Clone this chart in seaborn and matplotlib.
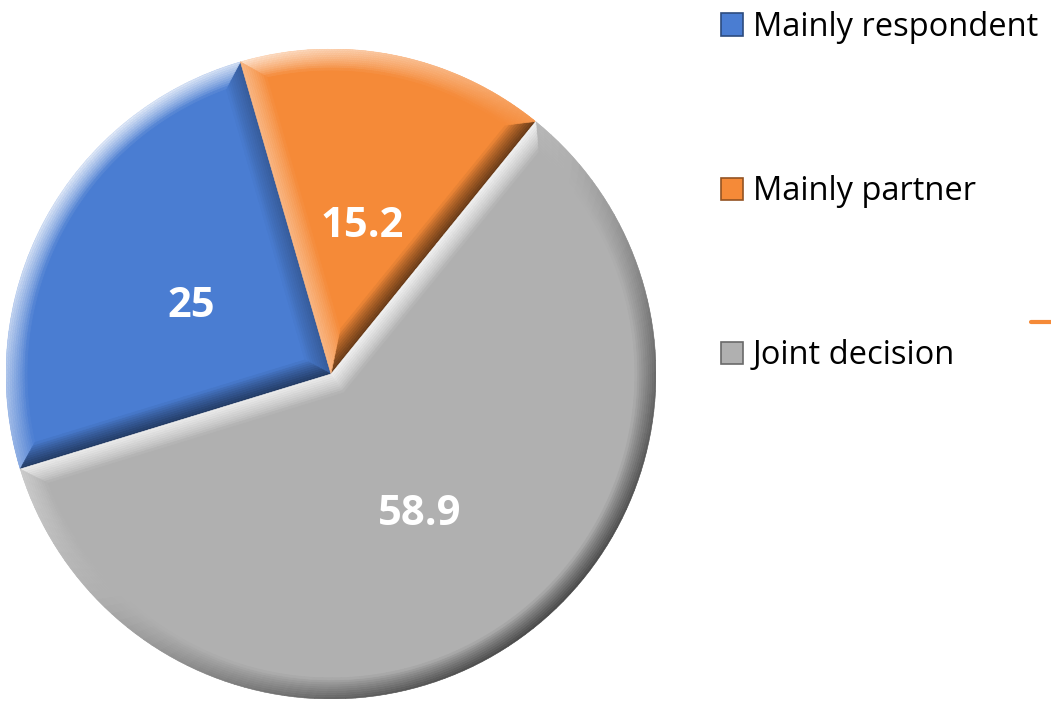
import numpy as np
import matplotlib
matplotlib.use("Agg")
import matplotlib.pyplot as plt
import matplotlib.colors as mcolors
from matplotlib.collections import PolyCollection
from matplotlib.lines import Line2D
from matplotlib.patches import Patch
import seaborn as sns

# Datos
categorias = ["Mainly respondent", "Mainly partner", "Joint decision"]
valores = [25, 15.2, 58.9]
etiquetas = ["25", "15.2", "58.9"]
colores = ["#4A7DD2", "#F58A38", "#B0B0B0"]

sns.set_theme(style="white")
plt.rcParams["font.family"] = ["Open Sans", "DejaVu Sans"]

fig = plt.figure(figsize=(10.51, 7.07), dpi=100)
ax = fig.add_axes([6 / 1051, 8 / 707, 650 / 1051, 650 / 707])

wedges, textos = ax.pie(
    valores,
    labels=etiquetas,
    colors=colores,
    startangle=197,
    counterclock=False,
    labeldistance=0.49,
    wedgeprops=dict(linewidth=0),
)

for t in textos:
    t.set_ha("center")
    t.set_va("center_baseline")
    t.set_color("white")
    t.set_fontsize(30)
    t.set_fontweight("bold")
    t.set_zorder(10)
    x, y = t.get_position()
    t.set_position((x, y - 0.01))


# Efecto bisel (luz desde arriba a la izquierda)
def contorno(w, d, n_arco=120, n_rad=30):
    t1, t2 = np.radians(w.theta1), np.radians(w.theta2)
    R = w.r
    cx, cy = w.center
    half = (t2 - t1) / 2
    bis = t1 + half
    dist = d / np.sin(half)
    apex = np.array([cx + dist * np.cos(bis), cy + dist * np.sin(bis)])
    delta = np.arcsin(d / (R - d))
    ang = np.linspace(t1 + delta, t2 - delta, n_arco)
    arco = np.column_stack([cx + (R - d) * np.cos(ang), cy + (R - d) * np.sin(ang)])
    e1 = np.linspace(apex, arco[0], n_rad)
    e2 = np.linspace(arco[-1], apex, n_rad)
    return np.vstack([e1, arco[1:], e2[1:]])


luz = np.array([-0.7, 0.75])
luz = luz / np.linalg.norm(luz)
ancho = 0.065
niveles = 10

for w, col in zip(wedges, colores):
    base = np.array(mcolors.to_rgb(col))
    capas = [contorno(w, ancho * k / niveles) for k in range(niveles + 1)]
    p0 = capas[0]
    seg = np.diff(p0, axis=0)
    normales = np.column_stack([seg[:, 1], -seg[:, 0]])
    normales /= np.linalg.norm(normales, axis=1, keepdims=True) + 1e-12
    s = normales @ luz
    polys, cols = [], []
    for k in range(niveles):
        a, b = capas[k], capas[k + 1]
        tm = (k + 0.5) / niveles
        perfil = (1 - tm) ** 0.8
        for j in range(len(seg)):
            polys.append([a[j], a[j + 1], b[j + 1], b[j]])
            amt = s[j] * perfil
            if amt > 0:
                c = base + (1 - base) * amt * 0.85
            else:
                c = base * (1 + amt * 0.6)
            cols.append(np.clip(c, 0, 1))
    pc = PolyCollection(polys, facecolors=cols, edgecolors=cols, linewidths=0.4, zorder=3)
    ax.add_collection(pc)

ax.set_xlim(-1, 1)
ax.set_ylim(-1, 1)
ax.set_aspect("equal")
ax.axis("off")

manijas = [Patch(facecolor=c, edgecolor=np.array(mcolors.to_rgb(c)) * 0.6, linewidth=1.2)
           for c in colores]
leg = ax.legend(
    manijas,
    categorias,
    loc="upper left",
    bbox_to_anchor=(721 / 1051, 1 - 11 / 707),
    bbox_transform=fig.transFigure,
    frameon=False,
    fontsize=23.5,
    labelspacing=4.02,
    handlelength=0.68,
    handleheight=0.68,
    handletextpad=0.3,
    borderpad=0,
    borderaxespad=0,
)
for t in leg.get_texts():
    t.set_color("black")

fig.add_artist(Line2D([1031 / 1051, 1.0], [1 - 322 / 707] * 2, transform=fig.transFigure,
                      color="#F58A38", lw=3, solid_capstyle="round"))

fig.savefig("out.png", dpi=100, facecolor="white")
